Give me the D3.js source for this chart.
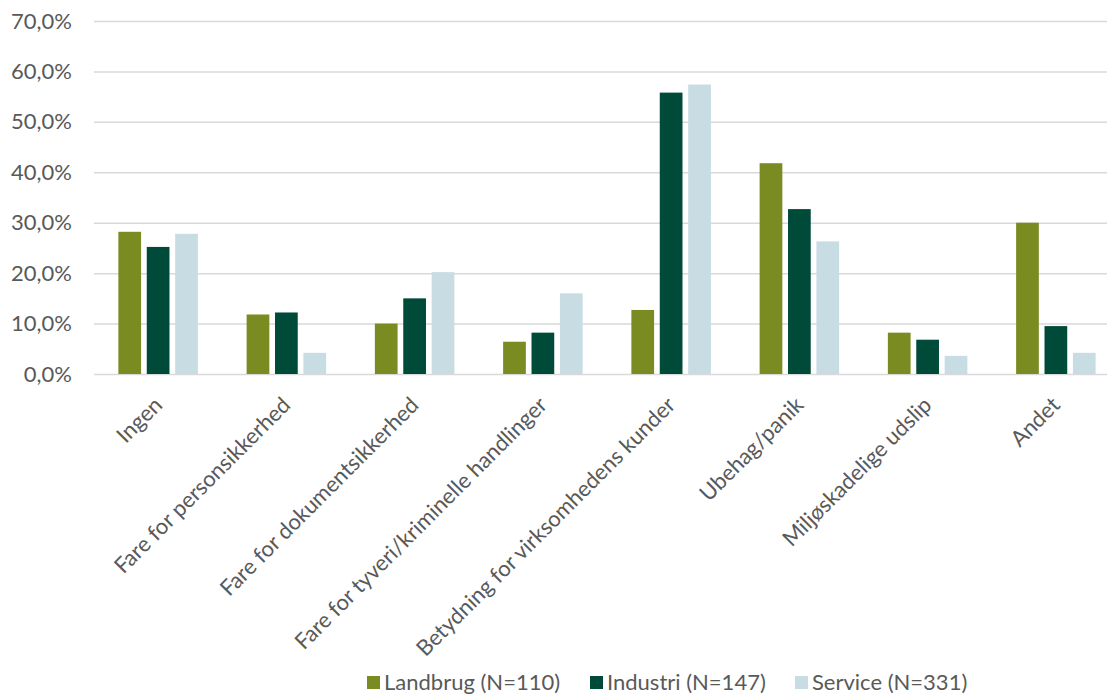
<!DOCTYPE html>
<html><head><meta charset="utf-8">
<script src="https://cdn.jsdelivr.net/npm/d3@7"></script>
<style>body{margin:0;background:#fff}svg{display:block}text{font-family:Lato,"Open Sans",sans-serif;fill:#595959}</style>
</head><body><svg id="c" width="1107" height="696"></svg>
<script>
const categories = ["Ingen","Fare for personsikkerhed","Fare for dokumentsikkerhed","Fare for tyveri/kriminelle handlinger","Betydning for virksomhedens kunder","Ubehag/panik","Miljøskadelige udslip","Andet"];
const seriesNames = ["Landbrug (N=110)","Industri (N=147)","Service (N=331)"];
const landbrug = [28.2, 11.8, 10.0, 6.4, 12.7, 41.8, 8.2, 30.0];
const industri = [25.2, 12.2, 15.0, 8.2, 55.8, 32.7, 6.8, 9.5];
const service  = [27.8, 4.2, 20.2, 16.0, 57.4, 26.3, 3.6, 4.2];
const yTicks = [0,10,20,30,40,50,60,70];
const colors = ["#7a8c21","#004a3a","#c8dce4"];

(function(){
const svg = d3.select("#c");
const values = [landbrug, industri, service];
const mLeft = 94, mRight = 1120, mTop = 21, mBottom = 374;
const y = d3.scaleLinear().domain([0,70]).range([mBottom, mTop]);
const x0 = d3.scaleBand().domain(categories).range([mLeft, mRight]).paddingInner(0.38).paddingOuter(0.19);
const x1 = d3.scaleBand().domain(seriesNames).range([0, x0.bandwidth()]).paddingInner(0.2).paddingOuter(0);
const fmt = v => d3.format(".1f")(v).replace(".", ",") + "%";

const yAxis = d3.axisLeft(y).tickValues(yTicks).tickFormat(fmt).tickSize(-(1107-mLeft)).tickPadding(22);
const ga = svg.append("g").attr("transform", `translate(${mLeft},0)`).call(yAxis);
ga.select(".domain").remove();
ga.selectAll(".tick line").attr("stroke", "#d9d9d9").attr("stroke-width", 1.5);
ga.selectAll(".tick text").style("font-size", "22px").style("fill","#595959");

const groups = svg.append("g").selectAll("g").data(categories).join("g")
  .attr("transform", d => `translate(${x0(d)},0)`);
groups.selectAll("rect").data((d,i) => seriesNames.map((s,j) => ({s, v: values[j][i], j})))
  .join("rect")
  .attr("x", d => x1(d.s)).attr("width", x1.bandwidth())
  .attr("y", d => y(d.v)).attr("height", d => y(0) - y(d.v))
  .attr("fill", d => colors[d.j]);

const xAxis = d3.axisBottom(x0).tickSize(0).tickPadding(0);
const gx = svg.append("g").attr("transform", `translate(0,${mBottom})`).call(xAxis);
gx.select(".domain").remove();
gx.selectAll(".tick text")
  .attr("text-anchor", "end").attr("y", 0).attr("dy", "0.35em")
  .attr("transform", "translate(0,27) rotate(-45)")
  .style("font-size", "22px").style("fill", "#595959");

const legend = svg.append("g").attr("transform", "translate(0,682)");
const lx = [367, 590, 795];
seriesNames.forEach((s,i) => {
  legend.append("rect").attr("x", lx[i]).attr("y", -6).attr("width", 13).attr("height", 13).attr("fill", colors[i]);
  legend.append("text").attr("x", lx[i] + 17).attr("y", 0).attr("dy", "0.35em").style("font-size", "22px").text(s);
});
})();
</script></body></html>
